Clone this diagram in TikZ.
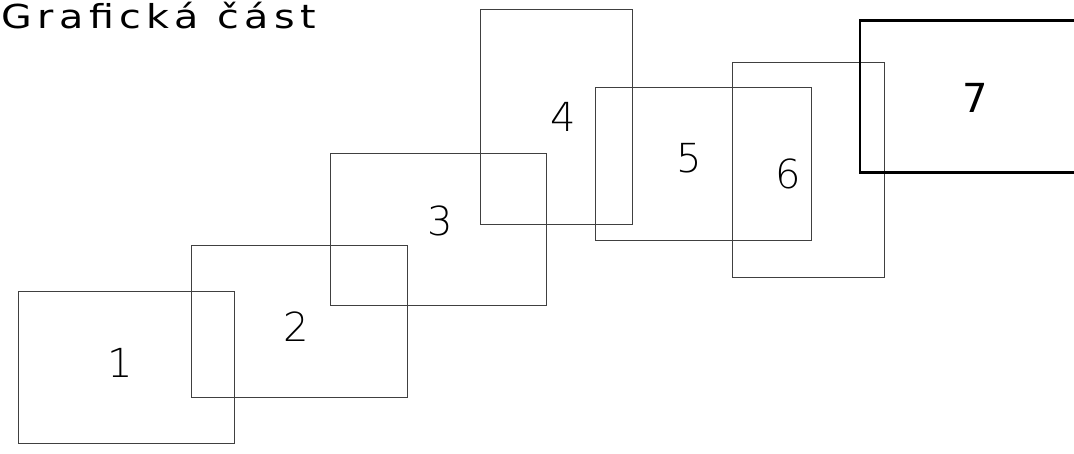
\documentclass[tikz,border=0pt]{standalone}
\usepackage{fontspec}
\setmainfont{DejaVu Sans}
\newfontfamily\thinfont{DejaVu Sans ExtraLight}
\newfontfamily\titlefont[LetterSpace=14]{DejaVu Sans}
\begin{document}
\begin{tikzpicture}[x=1pt,y=-1pt,
  sheet/.style={draw=black!75,line width=1pt},
  bigsheet/.style={draw=black,line width=2.5pt},
  num/.style={font=\thinfont\fontsize{40}{40}\selectfont,inner sep=0pt,anchor=center},
  bignum/.style={font=\fontsize{40}{40}\selectfont,inner sep=0pt,anchor=center}]
\useasboundingbox (0,0) rectangle (1074,453);
\clip (0,0) rectangle (1074,453);
\draw[sheet] (18.5,291.5) rectangle (234.5,443.5);
\draw[sheet] (191.5,245.5) rectangle (407.5,397.5);
\draw[sheet] (330,153.5) rectangle (546,305);
\draw[sheet] (480,9) rectangle (632.5,224.5);
\draw[sheet] (595.5,87.5) rectangle (811,240);
\draw[sheet] (732.5,62) rectangle (884.5,277.5);
\draw[bigsheet] (860,20.5) rectangle (1090,172.5);
\node[num] (n1) at (120,363) {1};
\node[num] (n2) at (296,327) {2};
\node[num] (n3) at (440,221) {3};
\node[num] (n4) at (563,117) {4};
\node[num] (n5) at (689,158) {5};
\node[num] (n6) at (788,174) {6};
\node[bignum] (n7) at (975,98) {7};
\node[font=\titlefont\fontsize{33}{33}\selectfont,inner sep=0pt,anchor=base west,xscale=1.2] (title) at (1,28) {Grafická část};
\end{tikzpicture}
\end{document}
